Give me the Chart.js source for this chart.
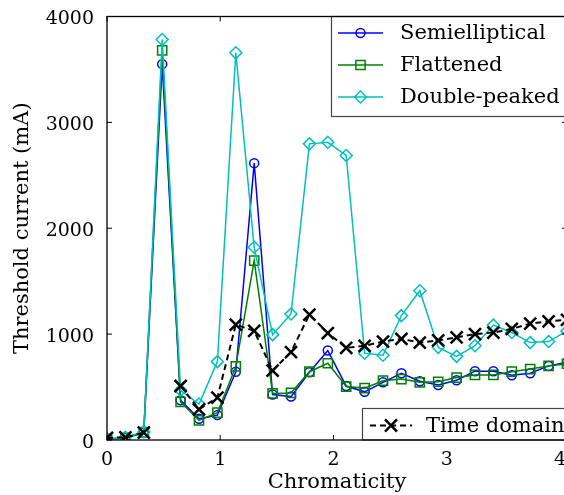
<!DOCTYPE html>
<html>
<head>
<meta charset="utf-8">
<script src="https://cdn.jsdelivr.net/npm/chart.js"></script>
<style>
  html, body { margin: 0; padding: 0; background: #fff; overflow: hidden; }
  canvas { display: block; }
</style>
</head>
<body>
<canvas id="chart" width="580" height="495" style="width:580px;height:495px"></canvas>
<script>
const chromaticity = [0, 0.1625, 0.325, 0.4875, 0.65, 0.8125, 0.975, 1.1375, 1.3, 1.4625, 1.625, 1.7875, 1.95,
  2.1125, 2.275, 2.4375, 2.6, 2.7625, 2.925, 3.0875, 3.25, 3.4125, 3.575, 3.7375, 3.9, 4.0625];

const semielliptical = [10, 20, 70, 3550, 375, 200, 235, 645, 2615, 430, 410, 640, 845,
  510, 455, 545, 630, 555, 520, 565, 650, 650, 612, 630, 700, 735];
const flattened = [10, 20, 75, 3680, 360, 185, 258, 695, 1695, 440, 445, 645, 725,
  505, 490, 560, 575, 545, 550, 590, 615, 615, 645, 670, 700, 720];
const doublePeaked = [10, 25, 75, 3783, 470, 340, 740, 3657, 1820, 995, 1190, 2797, 2812,
  2687, 820, 800, 1175, 1410, 875, 790, 890, 1085, 1015, 920, 930, 1030];
const timeDomain = [20, 25, 70, null, 510, 290, 400, 1090, 1030, 655, 830, 1185, 1010,
  870, 890, 930, 955, 920, 940, 970, 1000, 1015, 1050, 1100, 1120, 1135];

const xTicks = [0, 1, 2, 3, 4];
const yTicks = [0, 1000, 2000, 3000, 4000];

const FONT = '"DejaVu Serif", serif';
const BLUE = '#0000ff', GREEN = '#008000', CYAN = '#00bfbf', BLACK = '#000000';

const toPoints = (ys) => chromaticity.map((x, i) => ({ x: x, y: ys[i] }));

function series(label, ys, color, style, radius, order) {
  return {
    label: label,
    data: toPoints(ys),
    showLine: true,
    borderColor: color,
    borderWidth: 1.5,
    backgroundColor: 'rgba(0,0,0,0)',
    pointStyle: style,
    pointRadius: radius,
    pointBorderColor: color,
    pointBorderWidth: 1.5,
    pointBackgroundColor: 'rgba(0,0,0,0)',
    spanGaps: false,
    order: order,
  };
}

const datasets = [
  series('Semielliptical', semielliptical, BLUE, 'circle', 4.5, 4),
  series('Flattened', flattened, GREEN, 'rect', 6.5, 3),
  series('Double-peaked', doublePeaked, CYAN, 'rectRot', 6, 2),
  Object.assign(series('Time domain', timeDomain, BLACK, 'crossRot', 8.5, 1), {
    borderWidth: 2, borderDash: [6, 4], pointBorderWidth: 2.5,
  }),
];

function marker(ctx, style, x, y, r, color, lw) {
  ctx.save();
  ctx.strokeStyle = color;
  ctx.lineWidth = lw;
  ctx.setLineDash([]);
  ctx.beginPath();
  if (style === 'circle') {
    ctx.arc(x, y, r, 0, Math.PI * 2);
  } else if (style === 'rect') {
    const s = r * Math.SQRT1_2;
    ctx.rect(x - s, y - s, 2 * s, 2 * s);
  } else if (style === 'rectRot') {
    ctx.moveTo(x, y - r); ctx.lineTo(x + r, y); ctx.lineTo(x, y + r); ctx.lineTo(x - r, y); ctx.closePath();
  } else if (style === 'crossRot') {
    const s = r * Math.SQRT1_2;
    ctx.moveTo(x - s, y - s); ctx.lineTo(x + s, y + s);
    ctx.moveTo(x - s, y + s); ctx.lineTo(x + s, y - s);
  }
  ctx.stroke();
  ctx.restore();
}

function legendBox(ctx, entries, left, top, right, bottom, lineX0, lineX1, textX, rowYs) {
  ctx.save();
  ctx.fillStyle = '#ffffff';
  ctx.fillRect(left, top, right - left, bottom - top);
  ctx.strokeStyle = '#444444';
  ctx.lineWidth = 1.2;
  ctx.strokeRect(left, top, right - left, bottom - top);
  entries.forEach((ds, i) => {
    const y = rowYs[i];
    ctx.strokeStyle = ds.borderColor;
    ctx.lineWidth = ds.borderWidth;
    ctx.setLineDash(ds.borderDash || []);
    ctx.beginPath();
    ctx.moveTo(lineX0, y);
    ctx.lineTo(lineX1, y);
    ctx.stroke();
    marker(ctx, ds.pointStyle, (lineX0 + lineX1) / 2, y, ds.pointRadius, ds.borderColor, ds.pointBorderWidth);
    ctx.fillStyle = '#000';
    ctx.font = '21px ' + FONT;
    ctx.textBaseline = 'middle';
    ctx.textAlign = 'left';
    ctx.fillText(ds.label, textX, y + 1);
  });
  ctx.restore();
}

const framePlugin = {
  id: 'frame',
  afterDatasetsDraw(chart) {
    const { ctx, chartArea: a, scales } = chart;
    ctx.save();
    ctx.strokeStyle = '#000';
    ctx.lineWidth = 1;
    ctx.beginPath();
    xTicks.forEach(v => {
      const px = scales.x.getPixelForValue(v);
      ctx.moveTo(px, a.bottom); ctx.lineTo(px, a.bottom - 5);
      ctx.moveTo(px, a.top); ctx.lineTo(px, a.top + 5);
    });
    yTicks.forEach(v => {
      const py = scales.y.getPixelForValue(v);
      ctx.moveTo(a.left, py); ctx.lineTo(a.left + 5, py);
      ctx.moveTo(a.right, py); ctx.lineTo(a.right - 5, py);
    });
    ctx.stroke();
    ctx.restore();

    const ds = chart.data.datasets;
    legendBox(ctx, ds.slice(0, 3), 331.5, a.top, a.right, 116.5, 338, 383, 400, [33, 65, 97]);
    legendBox(ctx, ds.slice(3), 362.5, 408.5, a.right, a.bottom, 370, 412, 426, [425.5]);

    ctx.save();
    ctx.strokeStyle = '#000';
    ctx.lineWidth = 1.3;
    ctx.strokeRect(a.left, a.top, a.right - a.left, a.bottom - a.top);
    ctx.restore();
  }
};

new Chart(document.getElementById('chart'), {
  type: 'scatter',
  data: { datasets: datasets },
  options: {
    responsive: false,
    animation: false,
    devicePixelRatio: 1,
    layout: { padding: { top: 16.5, right: 13, left: 0, bottom: 0 } },
    plugins: { legend: { display: false }, tooltip: { enabled: false } },
    scales: {
      x: {
        type: 'linear',
        min: 0,
        max: 4.0625,
        afterFit: s => { s.height = 55; s.paddingLeft = 0; s.paddingRight = 0; },
        afterBuildTicks: s => { s.ticks = xTicks.map(v => ({ value: v })); },
        grid: { display: false, drawTicks: false },
        border: { display: false },
        ticks: { color: '#000', font: { family: FONT, size: 19 }, padding: 9, maxRotation: 0, callback: v => String(v) },
        title: { display: true, text: 'Chromaticity', color: '#000', font: { family: FONT, size: 21 }, padding: { top: 4, bottom: 0 } },
      },
      y: {
        type: 'linear',
        min: 0,
        max: 4000,
        afterFit: s => { s.width = 107; s.paddingTop = 0; s.paddingBottom = 0; },
        afterBuildTicks: s => { s.ticks = yTicks.map(v => ({ value: v })); },
        grid: { display: false, drawTicks: false },
        border: { display: false },
        ticks: { color: '#000', font: { family: FONT, size: 19 }, padding: 13, labelOffset: 3, callback: v => String(v) },
        title: { display: true, text: 'Threshold current (mA)', color: '#000', font: { family: FONT, size: 21 }, padding: { top: 10, bottom: 0 } },
      },
    },
  },
  plugins: [framePlugin],
});
</script>
</body>
</html>
